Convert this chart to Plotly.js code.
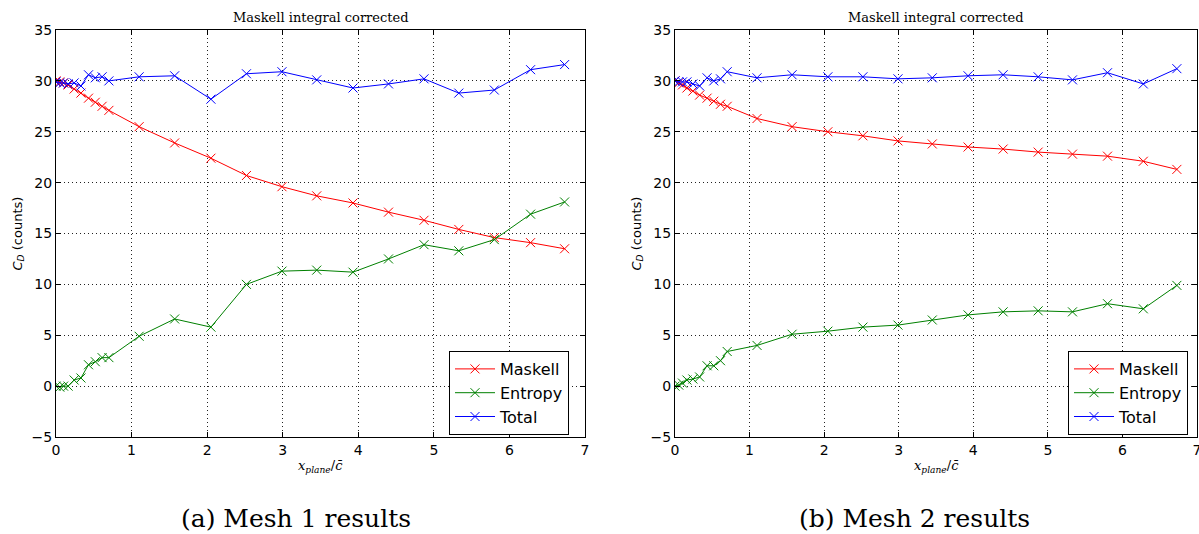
<!DOCTYPE html>
<html>
<head>
<meta charset="utf-8">
<script src="https://cdn.plot.ly/plotly-3.0.1.min.js"></script>
<style>html,body{margin:0;padding:0;background:#fff;}#chart{width:1199px;height:534px;}</style>
</head>
<body>
<div id="chart"></div>
<script>
// x positions (x_plane / c-bar)
const xPlane = [0, 0.05, 0.1, 0.16, 0.24, 0.33, 0.43, 0.52, 0.61, 0.7, 1.1, 1.57, 2.05, 2.52, 2.99, 3.45, 3.93, 4.4, 4.87, 5.33, 5.8, 6.28, 6.73];

// Mesh 1
const maskell1 = [30.0, 29.9, 29.8, 29.6, 29.2, 28.8, 28.3, 27.9, 27.5, 27.1, 25.5, 23.9, 22.4, 20.7, 19.6, 18.7, 18.0, 17.1, 16.3, 15.4, 14.6, 14.1, 13.5];
const entropy1 = [0.0, -0.1, 0.0, 0.0, 0.6, 0.8, 2.1, 2.4, 2.8, 2.8, 4.9, 6.6, 5.8, 10.0, 11.3, 11.4, 11.2, 12.5, 13.9, 13.3, 14.4, 16.9, 18.1];
const total1   = [29.9, 29.8, 29.8, 29.7, 29.8, 29.5, 30.6, 30.3, 30.4, 30.0, 30.4, 30.5, 28.2, 30.7, 30.9, 30.1, 29.3, 29.7, 30.2, 28.8, 29.1, 31.1, 31.6];

// Mesh 2
const maskell2 = [30.0, 29.8, 29.6, 29.3, 29.0, 28.6, 28.3, 28.0, 27.7, 27.5, 26.3, 25.5, 25.0, 24.6, 24.1, 23.8, 23.5, 23.3, 23.0, 22.8, 22.6, 22.1, 21.3];
const entropy2 = [0.0, 0.1, 0.3, 0.6, 0.7, 0.9, 2.0, 2.0, 2.5, 3.4, 4.0, 5.1, 5.4, 5.8, 6.0, 6.5, 7.0, 7.3, 7.4, 7.3, 8.1, 7.6, 9.9];
const total2   = [30.0, 29.9, 29.9, 29.9, 29.7, 29.5, 30.3, 30.0, 30.2, 30.9, 30.3, 30.6, 30.4, 30.4, 30.2, 30.3, 30.5, 30.6, 30.4, 30.1, 30.8, 29.7, 31.2];

const seriesNames = ['Maskell', 'Entropy', 'Total'];
const seriesColors = ['#ff0000', '#008000', '#0000ff'];
const titleText = 'Maskell integral corrected';
const captions = ['(a) Mesh 1 results', '(b) Mesh 2 results'];

const SANS = 'DejaVu Sans, sans-serif';
const SERIF = 'DejaVu Serif, serif';

function mk(x, y, i, xa, ya, leg) {
  return {
    x: x, y: y, name: seriesNames[i], type: 'scatter', mode: 'lines+markers',
    xaxis: xa, yaxis: ya, legend: leg,
    line: {color: seriesColors[i], width: 1},
    marker: {symbol: 'x-thin-open', size: 9, line: {color: seriesColors[i], width: 1}, color: seriesColors[i]}
  };
}

const traces = [
  mk(xPlane, maskell1, 0, 'x', 'y', 'legend'),
  mk(xPlane, entropy1, 1, 'x', 'y', 'legend'),
  mk(xPlane, total1, 2, 'x', 'y', 'legend'),
  mk(xPlane, maskell2, 0, 'x2', 'y2', 'legend2'),
  mk(xPlane, entropy2, 1, 'x2', 'y2', 'legend2'),
  mk(xPlane, total2, 2, 'x2', 'y2', 'legend2')
];

const W = 1199, H = 534;
const yDom = [1 - 437 / H, 1 - 30 / H];
const xDom1 = [56 / W, 585 / W];
const xDom2 = [675 / W, 1197 / W];

function xaxisDef(dom, anchor) {
  return {
    domain: dom, anchor: anchor, range: [0, 7], dtick: 1, tick0: 0,
    showline: true, linecolor: '#000', linewidth: 1, mirror: 'allticks',
    ticks: 'inside', ticklen: 5, tickcolor: '#000',
    showgrid: true, gridcolor: '#222', gridwidth: 1, griddash: '1px,3px',
    zeroline: false, ticklabeloverflow: 'allow',
    tickfont: {family: SANS, size: 14, color: '#000'}
  };
}
function yaxisDef(anchor) {
  return {
    domain: yDom, anchor: anchor, range: [-5, 35], dtick: 5, tick0: 0,
    showline: true, linecolor: '#000', linewidth: 1, mirror: 'allticks',
    ticks: 'inside', ticklen: 5, tickcolor: '#000',
    showgrid: true, gridcolor: '#222', gridwidth: 1, griddash: '1px,3px',
    zeroline: false, tickfont: {family: SANS, size: 14, color: '#000'}
  };
}

function legendDef(xl) {
  return {
    x: xl, y: 1 - 351 / H, xanchor: 'left', yanchor: 'top',
    xref: 'paper', yref: 'paper',
    bgcolor: '#fff', bordercolor: '#000', borderwidth: 1,
    font: {family: SANS, size: 16, color: '#000'},
    itemwidth: 40, tracegroupgap: 0
  };
}

const annotations = [];
[[xDom1, 0], [xDom2, 1]].forEach(([dom, k]) => {
  const cx = (dom[0] + dom[1]) / 2;
  annotations.push({text: titleText, x: cx, y: 1 - 18 / H, xref: 'paper', yref: 'paper',
    showarrow: false, font: {family: SERIF, size: 13, color: '#000'}, xanchor: 'center', yanchor: 'middle'});
  annotations.push({text: '<i>x<sub>plane</sub></i>/<i>c̄</i>', x: cx, y: 1 - 466 / H, xref: 'paper', yref: 'paper',
    showarrow: false, font: {family: SERIF, size: 13, color: '#000'}, xanchor: 'center', yanchor: 'middle'});
  annotations.push({text: '<i>C<sub>D</sub></i> (counts)', x: (dom[0] * W - 38) / W, y: (yDom[0] + yDom[1]) / 2,
    xref: 'paper', yref: 'paper', textangle: -90,
    showarrow: false, font: {family: SANS, size: 13, color: '#000'}, xanchor: 'center', yanchor: 'middle'});
  annotations.push({text: captions[k], x: (k === 0 ? 296 : 914) / W, y: 1 - 518 / H, xref: 'paper', yref: 'paper',
    showarrow: false, font: {family: SERIF, size: 25, color: '#000'}, xanchor: 'center', yanchor: 'middle'});
});

const layout = {
  width: W, height: H,
  margin: {l: 0, r: 0, t: 0, b: 0},
  paper_bgcolor: '#fff', plot_bgcolor: '#fff',
  showlegend: true,
  xaxis: xaxisDef(xDom1, 'y'),
  yaxis: yaxisDef('x'),
  xaxis2: xaxisDef(xDom2, 'y2'),
  yaxis2: yaxisDef('x2'),
  legend: legendDef(449 / W),
  legend2: legendDef(1068 / W),
  annotations: annotations
};

Plotly.newPlot('chart', traces, layout, {displayModeBar: false, staticPlot: true});
</script>
</body>
</html>
